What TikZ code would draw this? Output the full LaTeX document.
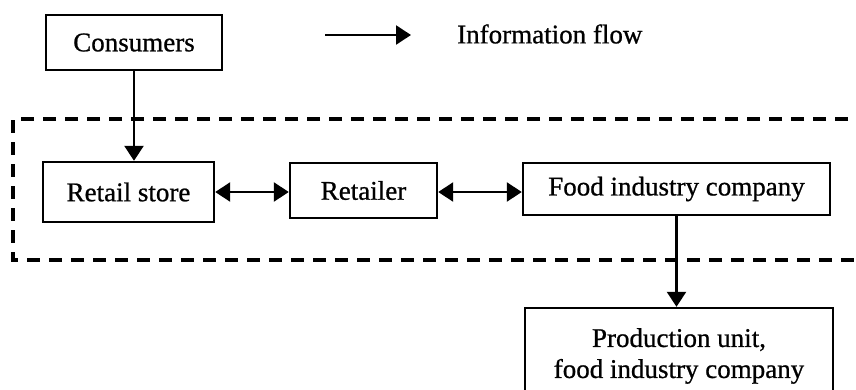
\documentclass[tikz,border=0pt]{standalone}
\usepackage{fontspec}
\setmainfont{Liberation Serif}
\newfontfamily\scanserif{Liberation Serif}[FakeBold=0.8]
\usetikzlibrary{arrows.meta}
\begin{document}
\begin{tikzpicture}[x=1pt,y=-1pt,
  box/.style={draw, line width=2.4pt, inner sep=0pt, align=center,
              font=\scanserif\fontsize{27}{31}\selectfont},
  flow/.style={line width=2.4pt, -{Triangle[length=15pt,width=19pt]}},
  flowboth/.style={line width=2.4pt, {Triangle[length=15pt,width=19pt]}-{Triangle[length=15pt,width=19pt]}},
  boundary/.style={line width=4pt, dash pattern=on 13pt off 9pt}]
\useasboundingbox (0,0) rectangle (856,389);
\clip (0,0) rectangle (856,389);

% legend
\coordinate (la) at (325,35);
\coordinate (lb) at (411,35);
\draw[flow] (la) -- (lb);
\node[anchor=west, inner sep=0pt, font=\scanserif\fontsize{27}{31}\selectfont] (legend) at (457,34) {Information flow};

% company boundary (open to the right)
\coordinate (b1) at (870,119);
\coordinate (b2) at (13,119);
\coordinate (b3) at (13,260);
\coordinate (b4) at (870,260);
\draw[boundary] (b1) -- (b2) -- (b3) -- (b4);

% actors
\node[box, minimum width=176pt, minimum height=55pt] (cons) at (134,42.5) {Consumers};
\node[box, minimum width=171pt, minimum height=60pt] (store) at (128.5,192) {Retail store};
\node[box, minimum width=147pt, minimum height=55pt] (retailer) at (363.5,190.5) {Retailer};
\node[box, minimum width=307pt, minimum height=52pt] (food) at (676.5,189) {Food industry company};
\node[box, minimum width=308pt, minimum height=96pt] (prod) at (679,356) {Production unit,\\food industry company};

% information flows
\draw[flow] (cons.south) -- (cons.south |- store.north);
\draw[flowboth] (store.east) -- (store.east -| retailer.west);
\draw[flowboth] (retailer.east |- store.east) -- (food.west |- store.east);
\draw[flow] (food.south) -- (food.south |- prod.north);
\end{tikzpicture}
\end{document}
